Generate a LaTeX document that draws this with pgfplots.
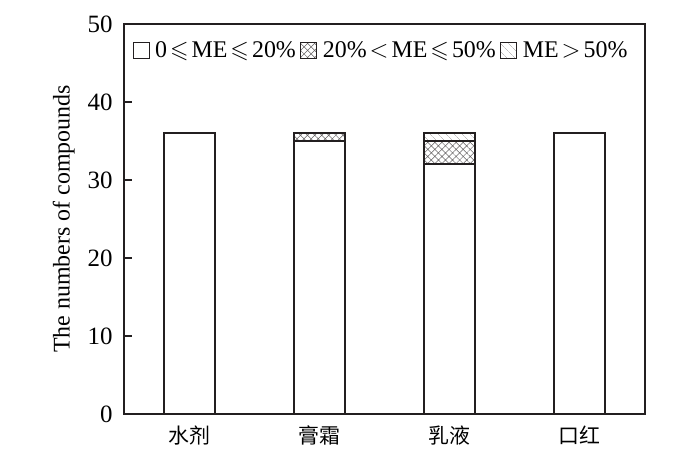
\documentclass[border=0pt]{standalone}
\usepackage{amssymb}
\usepackage{fontspec}
\setmainfont{Liberation Serif}
\newfontfamily\cjk{Noto Sans CJK SC}
\usepackage{pgfplots}
\pgfplotsset{compat=1.18}
\usetikzlibrary{patterns.meta}
\definecolor{ink}{HTML}{231F20}
\newcommand{\lesl}{\kern3bp$\leqslant$\kern3bp}
\newcommand{\rel}[1]{\kern3bp$#1$\kern3bp}
\begin{document}
\begin{tikzpicture}
\begin{axis}[
  scale only axis,
  width=521bp, height=390bp,
  xmin=-0.5, xmax=3.5,
  ymin=0, ymax=50,
  ybar stacked,
  bar width=51bp,
  axis line style={ink, line width=1.5bp},
  xtick={0,1,2,3},
  xticklabels={水剂,膏霜,乳液,口红},
  x tick label style={font=\cjk\fontsize{21}{24}\selectfont, yshift=-8bp},
  xtick style={draw=none},
  ytick={0,10,20,30,40,50},
  ytick pos=left,
  tick align=inside,
  major tick length=8bp,
  ytick style={ink, line width=1.5bp},
  y tick label style={font=\fontsize{25}{28}\selectfont, xshift=-8bp},
  /pgf/number format/assume math mode=true,
  ylabel={The numbers of compounds},
  ylabel style={font=\fontsize{24}{28}\selectfont, yshift=6bp},
  legend style={draw=none, fill=none, at={(rel axis cs:0.017,0.933)}, anchor=west,
    legend columns=3, font=\fontsize{24}{26}\selectfont,
    inner xsep=0bp, inner ysep=0bp,
    /tikz/every even column/.append style={column sep=0bp}},
  legend image code/.code={\draw[#1, line width=1bp] (0bp,-8bp) rectangle (16bp,8bp);},
]
\addplot[draw=ink, fill=white, line width=1.8bp] coordinates {(0,36) (1,35) (2,32) (3,36)};
\addplot[draw=ink, line width=1.8bp, pattern={Hatch[angle=45, distance=5bp, line width=0.5bp]}, pattern color=ink!70] coordinates {(0,0) (1,1) (2,3) (3,0)};
\addplot[draw=ink, line width=1.8bp, pattern={Lines[angle=-45, distance=6bp, line width=0.4bp]}, pattern color=ink!45] coordinates {(0,0) (1,0) (2,1) (3,0)};
\legend{\kern3bp 0\lesl ME\lesl 20\%\kern2bp, \kern4bp 20\%\rel{<}ME\lesl 50\%\kern2bp, \kern4bp ME\rel{>}50\%}
\end{axis}
\pgfresetboundingbox
\useasboundingbox ([xshift=-124bp,yshift=-43bp]current axis.south west) rectangle ([xshift=49bp,yshift=24bp]current axis.north east);
\end{tikzpicture}
\end{document}
